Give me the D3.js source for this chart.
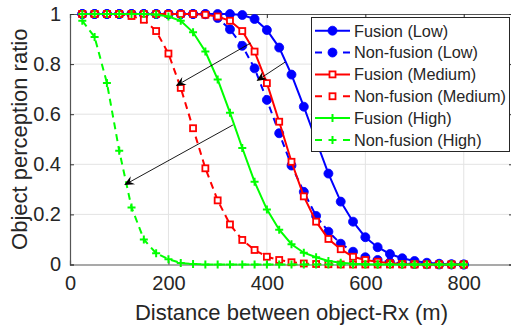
<!DOCTYPE html>
<html>
<head>
<meta charset="utf-8">
<script src="https://cdn.jsdelivr.net/npm/d3@7"></script>
<style>
body{margin:0;background:#fff;}
text{font-family:"Liberation Sans",Arial,sans-serif;fill:#262626;}
</style>
</head>
<body>
<div id="chart"></div>
<script>
// distances (m)
const distances = [25,50,75,100,125,150,175,200,225,250,275,300,325,350,375,400,
  425,450,475,500,525,550,575,600,625,650,675,700,725,750,775,800];

const fusionLow = [1,1,1,1,1,1,1,1,1,1,1,1,1,0.996,0.98,0.936,
  0.866,0.758,0.63,0.495,0.363,0.251,0.171,0.109,0.069,0.042,0.025,0.014,0.007,0.003,0.001,0];
const nonFusionLow = [1,1,1,1,1,1,1,1,1,1,0.999,0.984,0.939,0.873,0.783,0.657,
  0.524,0.395,0.29,0.194,0.131,0.083,0.051,0.029,0.018,0.009,0.004,0.002,0.001,0,0,0];
const fusionMed = [1,1,1,1,1,1,1,1,1,1,0.997,0.99,0.973,0.932,0.85,0.724,
  0.57,0.41,0.272,0.171,0.102,0.061,0.031,0.018,0.011,0.005,0.002,0.001,0,0,0,0];
const nonFusionMed = [1,1,1,1,0.992,0.977,0.932,0.842,0.705,0.544,0.384,0.256,0.16,0.098,0.058,0.031,
  0.018,0.009,0.004,0.002,0.001,0,0,0,0,0,0,0,0,0,0,0];
const fusionHigh = [1,1,1,1,1,1,0.998,0.99,0.973,0.927,0.85,0.739,0.606,0.465,0.33,0.22,
  0.139,0.081,0.047,0.029,0.014,0.007,0.003,0.001,0,0,0,0,0,0,0,0];
const nonFusionHigh = [0.973,0.908,0.725,0.454,0.228,0.1,0.045,0.021,0.006,0.002,0,0,0,0,0,0,
  0,0,0,0,0,0,0,0,0,0,0,0,0,0,0,0];

const seriesNames = ["Fusion (Low)","Non-fusion (Low)","Fusion (Medium)",
  "Non-fusion (Medium)","Fusion (High)","Non-fusion (High)"];
const xTicks = [0,200,400,600,800];
const yTicks = [0,0.2,0.4,0.6,0.8,1];

// arrows, [x0,y0] -> [x1,y1] in data units
const arrows = [
  [[367,0.884],[215,0.713]],
  [[437,0.808],[379,0.733]],
  [[331,0.557],[110,0.317]]
];

const W = 511, H = 328;
const axisCol = "#262626";

const svg = d3.select("#chart").append("svg")
  .attr("width",W).attr("height",H);

const x = d3.scaleLinear().domain([0,900]).range([70,513]);
const y = d3.scaleLinear().domain([0,1]).range([264.5,14]);

// grid
svg.append("g").selectAll("line.gx").data(xTicks.slice(1)).enter().append("line")
  .attr("x1",d=>x(d)).attr("x2",d=>x(d)).attr("y1",y(0)).attr("y2",y(1))
  .attr("stroke","#e3e3e3").attr("stroke-width",1);
svg.append("g").selectAll("line.gy").data(yTicks.slice(1,-1)).enter().append("line")
  .attr("x1",x(0)).attr("x2",x(900)).attr("y1",d=>y(d)).attr("y2",d=>y(d))
  .attr("stroke","#e3e3e3").attr("stroke-width",1);

// axes (box on, ticks inward)
const xAx = svg.append("g").attr("transform",`translate(0,${y(0)})`)
  .call(d3.axisBottom(x).tickValues(xTicks).tickSize(-4).tickPadding(11).tickFormat(d3.format("d")));
const xTop = svg.append("g").attr("transform",`translate(0,${y(1)})`)
  .call(d3.axisTop(x).tickValues(xTicks).tickSize(-4).tickFormat(""));
const yAx = svg.append("g").attr("transform",`translate(${x(0)},0)`)
  .call(d3.axisLeft(y).tickValues(yTicks).tickSize(-4).tickPadding(9).tickFormat(d=>d===0||d===1?d:d.toFixed(1)));
const yRight = svg.append("g").attr("transform",`translate(${x(900)},0)`)
  .call(d3.axisRight(y).tickValues(yTicks).tickSize(-4).tickFormat(""));
[xAx,xTop,yAx,yRight].forEach(g=>{
  g.select(".domain").attr("stroke","#555").attr("stroke-width",1.2);
  g.selectAll(".tick line").attr("stroke","#333");
  g.selectAll("text").attr("font-size",20).attr("fill","#262626")
    .style("font-family","'Liberation Sans',Arial,sans-serif");
});

// labels
svg.append("text").attr("x",(x(0)+x(900))/2).attr("y",320)
  .attr("text-anchor","middle").attr("font-size",22)
  .text("Distance between object-Rx (m)");
svg.append("text").attr("transform",`translate(27,${(y(0)+y(1))/2}) rotate(-90)`)
  .attr("text-anchor","middle").attr("font-size",22)
  .text("Object perception ratio");

// series
const series = [
  {vals:fusionLow,    color:"#0000ff",dash:null, marker:"circle"},
  {vals:nonFusionLow, color:"#0000ff",dash:"7,5",marker:"circle"},
  {vals:fusionMed,    color:"#ff0000",dash:null, marker:"square"},
  {vals:nonFusionMed, color:"#ff0000",dash:"7,5",marker:"square"},
  {vals:fusionHigh,   color:"#00ff00",dash:null, marker:"plus"},
  {vals:nonFusionHigh,color:"#00ff00",dash:"7,5",marker:"plus"}
];

function drawMarker(g,type,color,cx,cy){
  if(type==="circle"){
    g.append("circle").attr("cx",cx).attr("cy",cy).attr("r",4.5)
      .attr("fill",color).attr("stroke",color).attr("stroke-width",0.8);
  } else if(type==="square"){
    g.append("rect").attr("x",cx-3).attr("y",cy-3).attr("width",6).attr("height",6)
      .attr("fill","#fff").attr("stroke",color).attr("stroke-width",1.8);
  } else {
    g.append("path").attr("d",`M${cx-4},${cy}H${cx+4}M${cx},${cy-4}V${cy+4}`)
      .attr("stroke",color).attr("stroke-width",2).attr("fill","none");
  }
}

const line = d3.line().x((d,i)=>x(distances[i])).y(d=>y(d));
series.forEach(s=>{
  const g = svg.append("g");
  g.append("path").datum(s.vals).attr("d",line)
    .attr("fill","none").attr("stroke",s.color).attr("stroke-width",2)
    .attr("stroke-dasharray",s.dash);
  s.vals.forEach((v,i)=>drawMarker(g,s.marker,s.color,x(distances[i]),y(v)));
});

// arrows
arrows.forEach(a=>{
  const x0=x(a[0][0]),y0=y(a[0][1]),x1=x(a[1][0]),y1=y(a[1][1]);
  const ang=Math.atan2(y1-y0,x1-x0);
  const L=10,Wd=4.5,notch=6.5;
  const ux=Math.cos(ang),uy=Math.sin(ang),px=-uy,py=ux;
  svg.append("line").attr("x1",x0).attr("y1",y0)
    .attr("x2",x1-ux*notch).attr("y2",y1-uy*notch)
    .attr("stroke","#000").attr("stroke-width",0.9);
  const bx=x1-ux*L,by=y1-uy*L;
  svg.append("path")
    .attr("d",`M${x1},${y1}L${bx+px*Wd},${by+py*Wd}L${x1-ux*notch},${y1-uy*notch}L${bx-px*Wd},${by-py*Wd}Z`)
    .attr("fill","#000");
});

// legend
const lg = svg.append("g");
lg.append("rect").attr("x",311.5).attr("y",17.5).attr("width",198).attr("height",134)
  .attr("fill","#fff").attr("stroke","#262626").attr("stroke-width",1);
series.forEach((s,i)=>{
  const ry = 30.7 + i*21.85;
  const row = lg.append("g");
  if(s.dash){
    row.append("path").attr("d",`M315,${ry}H322M343,${ry}H350`)
      .attr("stroke",s.color).attr("stroke-width",2);
  } else {
    row.append("line").attr("x1",315).attr("x2",350).attr("y1",ry).attr("y2",ry)
      .attr("stroke",s.color).attr("stroke-width",2);
  }
  drawMarker(row,s.marker,s.color,332.5,ry);
  row.append("text").attr("x",354).attr("y",ry+5.8).attr("font-size",16.3)
    .text(seriesNames[i]);
});
</script>
</body>
</html>
